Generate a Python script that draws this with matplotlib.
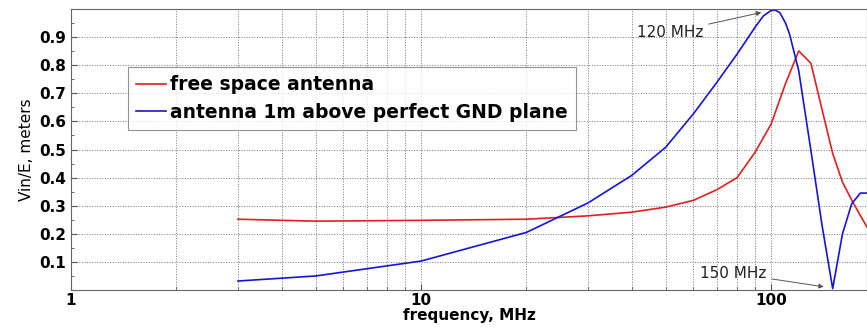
import matplotlib.pyplot as plt
import numpy as np
from matplotlib.ticker import FixedLocator, NullFormatter, MultipleLocator

# frequency (MHz) and Vin/E (m)
f_red = [3, 5, 10, 20, 30, 40, 50, 60, 70, 80, 90, 100, 110, 120, 130, 140, 150, 160, 170, 180, 188]
v_red = [0.252, 0.245, 0.248, 0.252, 0.264, 0.277, 0.295, 0.319, 0.357, 0.40, 0.49, 0.59,
         0.735, 0.851, 0.807, 0.64, 0.486, 0.384, 0.32, 0.265, 0.224]

f_blue = [3, 5, 10, 20, 30, 40, 50, 60, 70, 80, 90, 95, 100, 103, 106, 110, 113, 120, 130, 140,
          150, 160, 170, 180, 188]
v_blue = [0.032, 0.05, 0.103, 0.205, 0.31, 0.408, 0.508, 0.627, 0.739, 0.84, 0.935, 0.975, 0.995,
          0.996, 0.987, 0.95, 0.91, 0.78, 0.496, 0.227, 0.005, 0.2, 0.307, 0.345, 0.345]

labels = ["free space antenna", "antenna 1m above perfect GND plane"]
yticks = [0.1, 0.2, 0.3, 0.4, 0.5, 0.6, 0.7, 0.8, 0.9]
xticks = [1, 10, 100]

plt.rcParams['font.family'] = 'DejaVu Sans'
fig = plt.figure(figsize=(8.67, 3.29), dpi=100)
ax = fig.add_axes([0.0819, 0.1185, 0.9181, 0.854])

ax.semilogx(f_red, v_red, color='#e31e1e', lw=1.2, label=labels[0])
ax.semilogx(f_blue, v_blue, color='#1414e0', lw=1.2, label=labels[1])

ax.set_xlim(1, 188)
ax.set_ylim(0, 1)
ax.set_xticks(xticks)
ax.set_xticklabels([str(t) for t in xticks], fontweight='bold', fontsize=11)
minors = [m * d for d in (1, 10, 100) for m in range(2, 10)]
ax.xaxis.set_minor_locator(FixedLocator(minors))
ax.xaxis.set_minor_formatter(NullFormatter())
ax.set_yticks(yticks)
ax.set_yticklabels(["%.1f" % t for t in yticks], fontweight='bold', fontsize=11)
ax.yaxis.set_minor_locator(MultipleLocator(0.05))
ax.tick_params(which='both', direction='in', color='#555555')
ax.tick_params(which='major', length=4)
ax.tick_params(axis='x', which='major', pad=2)
ax.tick_params(which='minor', length=2)

ax.grid(True, which='major', ls=':', color='#777777', lw=0.7)
ax.xaxis.grid(True, which='minor', ls=':', color='#777777', lw=0.7)
for s in ax.spines.values():
    s.set_color('#666666')

ax.set_xlabel("frequency, MHz", fontweight='bold', fontsize=11, labelpad=0)
ax.set_ylabel("Vin/E, meters", fontsize=11, labelpad=4)

ax.annotate("120 MHz", xy=(95.5, 0.99), xytext=(64, 0.916), ha='right', va='center',
            fontsize=11, color='#222222',
            arrowprops=dict(arrowstyle='-|>', color='#555555', lw=0.7, mutation_scale=7))
ax.annotate("150 MHz", xy=(144, 0.01), xytext=(97, 0.06), ha='right', va='center',
            fontsize=11, color='#222222',
            arrowprops=dict(arrowstyle='-|>', color='#555555', lw=0.7, mutation_scale=7))

leg = ax.legend(loc='upper left', bbox_to_anchor=(0.0716, 0.794), borderaxespad=0,
                prop={'weight': 'bold', 'size': 13.5},
                frameon=True, fancybox=False, edgecolor='#777777', handlelength=1.6,
                handletextpad=0.2, borderpad=0.45, labelspacing=0.45)
leg.get_frame().set_linewidth(0.8)

fig.savefig("out.png", dpi=100)
